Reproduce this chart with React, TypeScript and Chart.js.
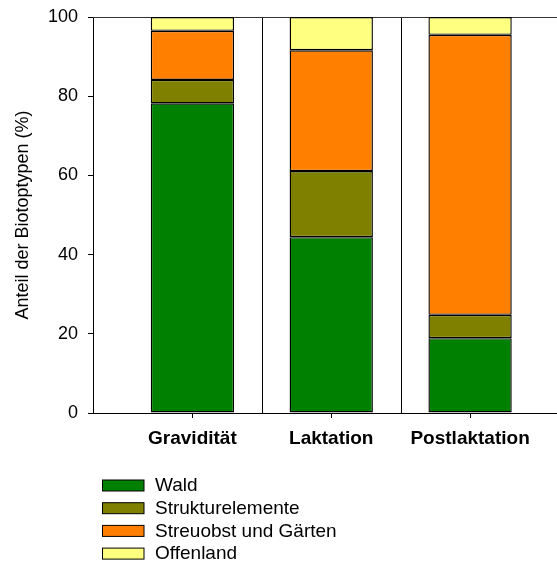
import React, { useEffect, useRef } from "react";
import { Chart, registerables } from "chart.js";

Chart.register(...registerables);

const categories = ["Gravidität", "Laktation", "Postlaktation"];
const seriesNames = ["Wald", "Strukturelemente", "Streuobst und Gärten", "Offenland"];
const wald = [78.2, 44.4, 18.9];
const strukturelemente = [5.9, 16.7, 5.9];
const streuobst = [12.4, 30.5, 70.7];
const offenland = [3.5, 8.4, 4.5];
const colors = ["#008000", "#808000", "#FF8000", "#FFFF80"];
const yTicks = [0, 20, 40, 60, 80, 100];

const FONT = '"Liberation Sans", Arial, Helvetica, sans-serif';

const framePlugin = {
  id: "frame",
  beforeDatasetsDraw(chart: any) {
    const { ctx, chartArea } = chart;
    const xs = chart.scales.x;
    ctx.save();
    ctx.strokeStyle = "#000";
    ctx.lineWidth = 1;
    ctx.beginPath();
    for (let i = 0; i < categories.length - 1; i++) {
      const px = Math.round(xs.getPixelForValue(i + 0.5)) + 0.5;
      ctx.moveTo(px, chartArea.top);
      ctx.lineTo(px, chartArea.bottom);
    }
    ctx.stroke();
    ctx.strokeStyle = "#333";
    ctx.beginPath();
    ctx.moveTo(chartArea.left, chartArea.top + 0.5);
    ctx.lineTo(chart.width, chartArea.top + 0.5);
    ctx.stroke();
    ctx.restore();
  },
  afterDraw(chart: any) {
    const { ctx, chartArea } = chart;
    ctx.save();
    ctx.font = "19px " + FONT;
    ctx.textBaseline = "middle";
    ctx.textAlign = "left";
    chart.data.datasets.forEach((ds: any, i: number) => {
      const cy = chartArea.bottom + 72.5 + i * 22.7;
      ctx.fillStyle = ds.backgroundColor;
      ctx.fillRect(102.5, cy - 5.5, 41.5, 11);
      ctx.strokeStyle = "#000";
      ctx.lineWidth = 1;
      ctx.strokeRect(102.5, cy - 5.5, 41.5, 11);
      ctx.fillStyle = "#000";
      ctx.fillText(ds.label, 155, cy + 0.5);
    });
    ctx.restore();
  },
};

export default function App() {
  const ref = useRef<HTMLCanvasElement | null>(null);
  useEffect(() => {
    if (!ref.current) return;
    const series = [wald, strukturelemente, streuobst, offenland];
    const chart = new Chart(ref.current, {
      type: "bar",
      data: {
        datasets: series.map((vals, s) => ({
          label: seriesNames[s],
          data: vals.map((v, i) => ({ x: i, y: v })),
          backgroundColor: colors[s],
          borderColor: "#000",
          borderWidth: 1.4,
          borderSkipped: false,
          categoryPercentage: 1,
          barPercentage: 0.6,
        })),
      },
      options: {
        animation: false,
        responsive: true,
        maintainAspectRatio: false,
        layout: { padding: { top: 17, left: 0, right: 0, bottom: 0 } },
        plugins: { legend: { display: false }, tooltip: { enabled: false } },
        scales: {
          x: {
            type: "linear",
            stacked: true,
            offset: false,
            min: -0.716,
            max: 2.626,
            afterBuildTicks: (scale: any) => {
              scale.ticks = categories.map((_, i) => ({ value: i }));
            },
            afterFit: (scale: any) => {
              scale.height = 152;
              scale.paddingLeft = 0;
              scale.paddingRight = 0;
            },
            ticks: {
              autoSkip: false,
              maxRotation: 0,
              padding: 9,
              color: "#000",
              font: { family: FONT, size: 19, weight: "bold" },
              callback: (v: any) => categories[v as number] ?? "",
            },
            grid: { offset: false, drawOnChartArea: false, drawTicks: true, tickLength: 5, color: "#000" },
            border: { display: true, color: "#000", width: 1 },
          },
          y: {
            stacked: true,
            min: 0,
            max: 100,
            afterBuildTicks: (scale: any) => {
              scale.ticks = yTicks.map((v) => ({ value: v }));
            },
            afterFit: (scale: any) => {
              scale.width = 93;
              scale.paddingTop = 0;
              scale.paddingBottom = 0;
            },
            ticks: {
              padding: 10,
              color: "#000",
              font: { family: FONT, size: 18 },
            },
            grid: { drawOnChartArea: false, drawTicks: true, tickLength: 5, color: "#000" },
            border: { display: true, color: "#000", width: 1 },
            title: {
              display: true,
              text: "Anteil der Biotoptypen (%)",
              color: "#000",
              font: { family: FONT, size: 18 },
              padding: { top: 12, bottom: 0 },
            },
          },
        },
      },
      plugins: [framePlugin],
    });
    return () => chart.destroy();
  }, []);
  return (
    <div style={{ position: "fixed", left: 0, top: 0, width: 557, height: 565, background: "#fff" }}>
      <canvas ref={ref} />
    </div>
  );
}
